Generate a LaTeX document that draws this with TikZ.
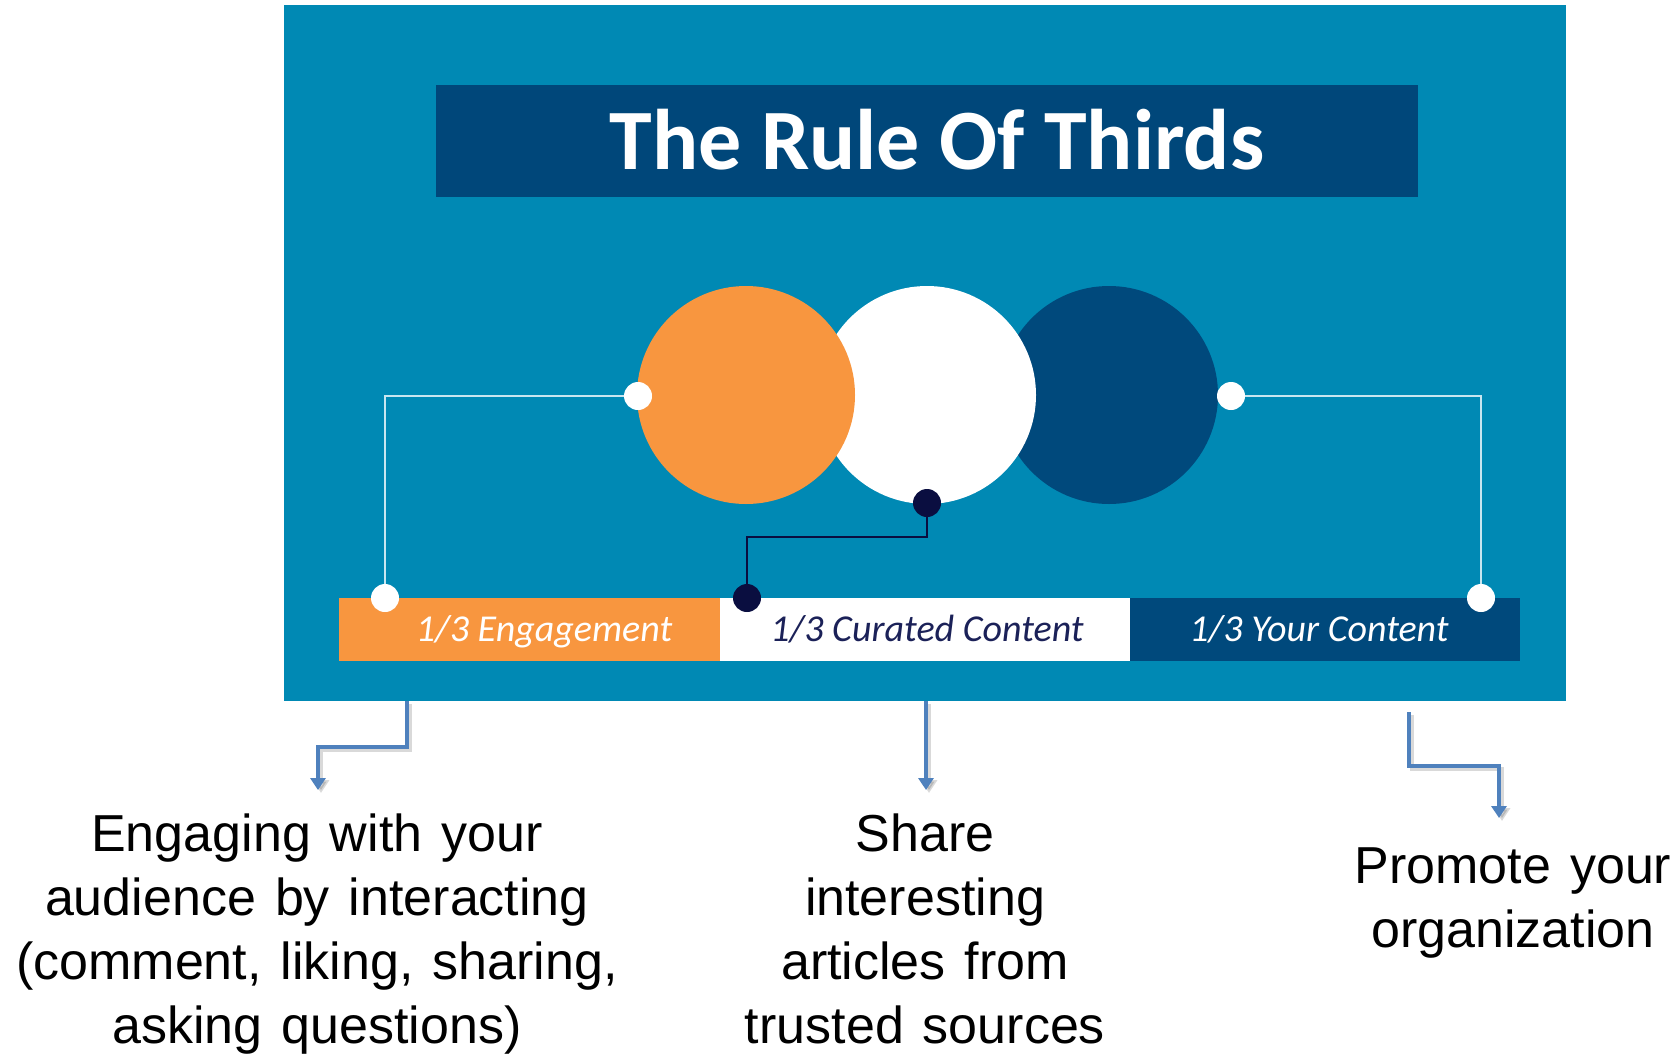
\documentclass[tikz,border=0pt]{standalone}
\usepackage{fontspec}
\setmainfont{Liberation Sans}
\newfontfamily\carlito{Carlito}
\usetikzlibrary{arrows.meta}
\newcommand\capspacing{\spaceskip=19pt\relax}
\definecolor{teal}{HTML}{0089B4}
\definecolor{titlebox}{HTML}{00477A}
\definecolor{orangec}{HTML}{F8963F}
\definecolor{darkc}{HTML}{00497C}
\definecolor{dotnavy}{HTML}{0A0E40}
\definecolor{arrowblue}{HTML}{4F81BD}
\definecolor{curated}{HTML}{1B2158}
\definecolor{connlight}{HTML}{C8E6F0}
\tikzset{
  disc/.style={circle, fill=#1, inner sep=0pt, minimum size=218pt},
  dotw/.style={circle, fill=white, inner sep=0pt, minimum size=28pt},
  dotn/.style={circle, fill=dotnavy, inner sep=0pt, minimum size=28pt},
  seg/.style={fill=#1, inner sep=0pt, minimum height=63pt, anchor=north west},
  barlabel/.style={font=\carlito\itshape\fontsize{38}{40}\selectfont, anchor=base, inner sep=0pt},
  capline/.style={font=\fontsize{52}{64}\selectfont\capspacing, anchor=base, inner sep=0pt, text=black},
  lightconn/.style={draw=connlight, line width=2pt},
  navyconn/.style={draw=dotnavy, line width=2pt},
  arrowline/.style={draw=arrowblue, line width=3.5pt, -{Triangle[width=15pt,length=12pt]}},
  arrowshadow/.style={draw=black, opacity=0.15, line width=4pt, -{Triangle[width=16pt,length=13pt]}},
}
\begin{document}
\begin{tikzpicture}[x=1pt,y=-1pt]
\useasboundingbox (0,0) rectangle (1678,1055);
\fill[white] (0,0) rectangle (1678,1055);
% background panel
\node[fill=teal, inner sep=0pt, minimum width=1282pt, minimum height=696pt, anchor=north west] (panel) at (284,5) {};
% title
\node[fill=titlebox, inner sep=0pt, minimum width=982pt, minimum height=112pt, anchor=north west] (tbox) at (436,85) {};
\node[font=\carlito\bfseries\fontsize{86}{90}\selectfont, text=white, anchor=base, inner sep=0pt] (title) at (937,169) {The Rule Of Thirds};
% circles
\node[disc=darkc] (cdark) at (1109,395) {};
\node[disc=white] (cwhite) at (927,395) {};
\node[disc=orangec] (corange) at (746,395) {};
% bar
\node[seg=orangec, minimum width=381pt] (bo) at (339,598) {};
\node[seg=white, minimum width=410pt] (bw) at (720,598) {};
\node[seg=darkc, minimum width=390pt] (bd) at (1130,598) {};
\node[barlabel, text=white] (lo) at (544,641) {1/3 Engagement};
\node[barlabel, text=curated] (lw) at (927,641) {1/3 Curated Content};
\node[barlabel, text=white] (ld) at (1319,641) {1/3 Your Content};
% dots (positions)
\coordinate (pL) at (638,396);
\coordinate (pLB) at (385,598);
\coordinate (pR) at (1231,396);
\coordinate (pRB) at (1481,598);
\coordinate (pN) at (927,503);
\coordinate (pNB) at (747,598);
% connectors
\draw[lightconn] (pL) -| (pLB);
\draw[lightconn] (pR) -| (pRB);
\draw[navyconn] (pN) -- (927,537) -| (pNB);
\node[dotw] (dL) at (pL) {};
\node[dotw] (dLB) at (pLB) {};
\node[dotw] (dR) at (pR) {};
\node[dotw] (dRB) at (pRB) {};
\node[dotn] (dN) at (pN) {};
\node[dotn] (dNB) at (pNB) {};
% bottom arrows
\coordinate (aLs) at (407,701);
\coordinate (aLe) at (318,790);
\coordinate (aMs) at (926,701);
\coordinate (aMe) at (926,790);
\coordinate (aRs) at (1409,712);
\coordinate (aRe) at (1499,818);
\draw[arrowshadow] ([shift={(3,3)}]aLs) -- ++(0,46) -| ([shift={(3,3)}]aLe);
\draw[arrowshadow] ([shift={(3,3)}]aMs) -- ([shift={(3,3)}]aMe);
\draw[arrowshadow] ([shift={(3,3)}]aRs) -- ++(0,54) -| ([shift={(3,3)}]aRe);
\draw[arrowline] (aLs) -- (407,747) -| (aLe);
\draw[arrowline] (aMs) -- (aMe);
\draw[arrowline] (aRs) -- (1409,766) -| (aRe);
% captions
\node[capline] (l1) at (317,851) {Engaging with your};
\node[capline] (l2) at (317,915) {audience by interacting};
\node[capline] (l3) at (317,979) {(comment, liking, sharing,};
\node[capline] (l4) at (317,1043) {asking questions)};
\node[capline] (m1) at (925,851) {Share};
\node[capline] (m2) at (925,915) {interesting};
\node[capline] (m3) at (925,979) {articles from};
\node[capline] (m4) at (925,1043) {trusted sources};
\node[capline] (r1) at (1513,883) {Promote your};
\node[capline] (r2) at (1513,947) {organization};
\end{tikzpicture}
\end{document}
